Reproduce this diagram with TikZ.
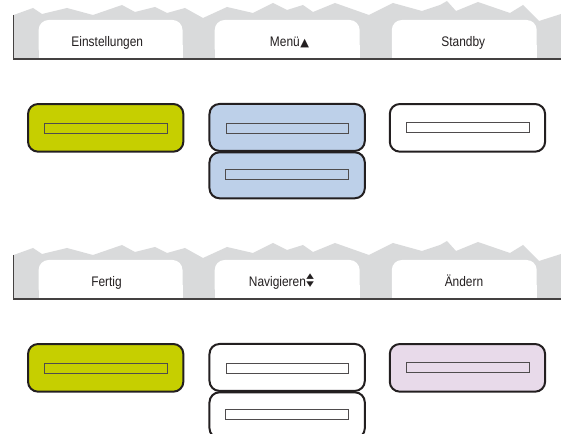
\documentclass[tikz,border=0pt]{standalone}
\usepackage{graphicx}
\usepackage{fontspec}
\setmainfont{Liberation Sans}[FakeStretch=0.86]
\newfontfamily\symfont{DejaVu Sans}
\definecolor{bandgray}{RGB}{217,218,219}
\definecolor{ink}{RGB}{35,31,32}
\definecolor{lime}{RGB}{198,207,0}
\definecolor{skyblue}{RGB}{189,208,233}
\definecolor{lavender}{RGB}{232,218,234}
\tikzset{
  band/.style={fill=bandgray},
  rim/.style={draw=ink!85, line width=0.9pt},
  tabface/.style={fill=white},
  tablabel/.style={font=\fontsize{10.4}{12}\selectfont, text=ink, inner sep=0pt, anchor=base},
  keybox/.style={draw=ink, line width=1.5pt, rounded corners=7.5pt, inner sep=0pt, minimum width=116.5pt, minimum height=35.75pt},
  slot/.style={draw=ink!80, line width=0.75pt, inner sep=0pt, minimum width=91.8pt, minimum height=7.5pt},
}
\newcommand\strip[1]{%
\begin{scope}[shift={(0,#1)}]
  \fill[band] (13.6,59) -- (13.6,15) -- (33,8) -- (42,14) -- (67,8) -- (93,15) -- (122,5) -- (135,12) -- (155,7) -- (167,13) -- (185,8) -- (203,18) -- (227,7) -- (253,13) -- (273,3) -- (287,10) -- (303,5) -- (313,12) -- (335,3) -- (369,15) -- (393,3) -- (422,11) -- (440,5) -- (447,1) -- (456,11) -- (478,2) -- (510,13) -- (523,5) -- (539,21) -- (561,14) -- (561,59) -- cycle;
  \foreach \a/\b in {38.6/182.5, 214.7/359.6, 391.8/536.7}{
    \fill[tabface, rounded corners=7.5pt] (\a,20) rectangle (\b,59);
    \fill[tabface] (\a,45) rectangle (\b,59);
  }
  \draw[rim] (13.6,15) -- (13.6,59) -- (561,59);
\end{scope}}
\newcommand\uptri{{\symfont\fontsize{8.5}{8.5}\selectfont ▲}}
\newcommand\updowntri{\raisebox{0.4pt}{\symfont\fontsize{7.4}{7.4}\selectfont\scalebox{1}[0.74]{\vbox{\offinterlineskip\hbox{▲}\kern1.6pt\hbox{▼}}}}}
\begin{document}
\begin{tikzpicture}[x=0.75pt,y=-0.75pt]
\clip (0,0) rectangle (561,434);
\strip{0}
\strip{240}
\node[tablabel] (t1) at (107.3,46.7) {Einstellungen};
\node[tablabel] (t2) at (289.6,46.7) {Menü\hspace{0.5pt}\uptri};
\node[tablabel] (t3) at (463.3,46.7) {Standby};
\node[tablabel] (b1) at (106.5,286.7) {Fertig};
\node[tablabel] (b2) at (281.4,286.7) {Navigieren\hspace{0.3pt}\updowntri};
\node[tablabel] (b3) at (464,286.7) {Ändern};
% row 1
\node[keybox, fill=lime] (k1) at (105.7,127.85) {};
\node[keybox, fill=skyblue, minimum height=35.2pt] (k2) at (287.15,127.45) {};
\node[keybox, fill=skyblue, minimum height=34.5pt] (k2b) at (287.15,175.3) {};
\node[keybox, fill=white] (k3) at (467.45,127.85) {};
\node[slot, fill=lime] (s1) at (105.85,128.3) {};
\node[slot, fill=skyblue] (s2) at (287.4,128.3) {};
\node[slot, fill=skyblue] (s2b) at (286.9,174.2) {};
\node[slot, fill=white] (s3) at (468.15,127.7) {};
% row 2
\node[keybox, fill=lime] (m1) at (105.7,367.85) {};
\node[keybox, fill=white, minimum height=35.2pt] (m2) at (287.15,367.45) {};
\node[keybox, fill=white, minimum height=34.5pt] (m2b) at (287.15,415.3) {};
\node[keybox, fill=lavender] (m3) at (467.45,367.85) {};
\node[slot, fill=lime] (r1) at (105.85,368.3) {};
\node[slot, fill=white] (r2) at (287.4,368.3) {};
\node[slot, fill=white] (r2b) at (286.9,414.2) {};
\node[slot, fill=lavender] (r3) at (468.15,367.7) {};
\end{tikzpicture}
\end{document}
